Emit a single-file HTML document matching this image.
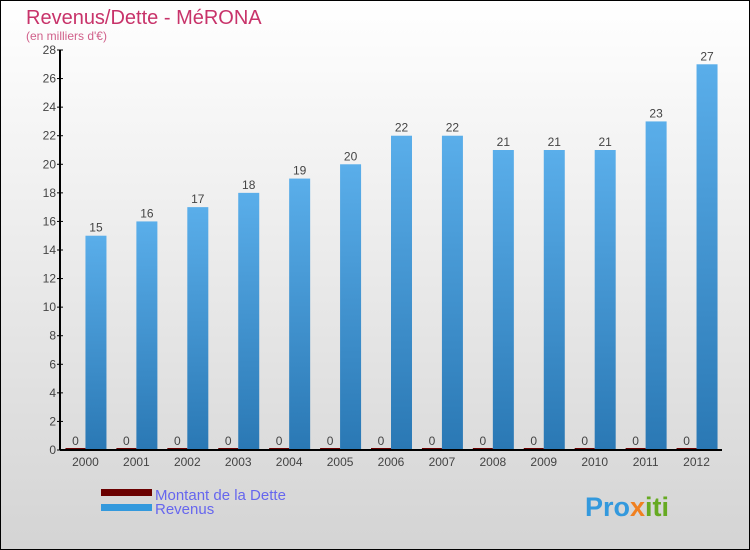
<!DOCTYPE html>
<html><head><meta charset="utf-8"><style>
body{margin:0}
#c{width:750px;height:550px;position:relative;box-sizing:border-box;border:1px solid #000;background:linear-gradient(#ffffff,#d4d4d4);font-family:"Liberation Sans",sans-serif;overflow:hidden}
</style></head><body>
<div id="c">
<svg width="748" height="548" style="position:absolute;left:0;top:0" id="s">
<defs><linearGradient id="g" x1="0" y1="0" x2="0" y2="1"><stop offset="0" stop-color="#5aaeea"/><stop offset="1" stop-color="#2a78b4"/></linearGradient></defs>
<text x="25" y="23" font-size="20" fill="#c8336a">Revenus/Dette - MéRONA</text>
<text x="25" y="39" font-size="12" fill="#d0608a">(en milliers d'€)</text>
<g id="plot"></g>
<rect x="100" y="488" width="51" height="7" fill="#6a0000"/>
<rect x="100" y="503" width="51" height="7" fill="#3399dd"/>
<text x="154" y="499" font-size="15" fill="#6666ee">Montant de la Dette</text>
<text x="154" y="513" font-size="15" fill="#6666ee">Revenus</text>
<text x="584" y="515" font-size="27" font-weight="bold" fill="#3399dd">Pro<tspan fill="#f08020">x</tspan><tspan fill="#66aa22">iti</tspan></text>
</svg>
</div>
<script>
const years=["2000","2001","2002","2003","2004","2005","2006","2007","2008","2009","2010","2011","2012"];
const debt=[0,0,0,0,0,0,0,0,0,0,0,0,0];
const revenue=[15,16,17,18,19,20,22,22,21,21,21,23,27];
const yTicks=[0,2,4,6,8,10,12,14,16,18,20,22,24,26,28];
const NS="http://www.w3.org/2000/svg";
const g=document.getElementById("plot");
const x0=59,x1=721,y0=449,yTop=49,yMax=28;
const bw=(x1-x0)/years.length;
const y=v=>y0-(v/yMax)*(y0-yTop);
const cx=i=>x0+bw*(i+0.5);
function mk(t,a){const e=document.createElementNS(NS,t);for(const k in a)e.setAttribute(k,a[k]);g.appendChild(e);return e;}
yTicks.forEach(v=>{
 const l=mk("line",{x1:x0-3,x2:x0+3,y1:y(v),y2:y(v),stroke:"#000"});
 
 
 const t=mk("text",{x:x0-4,y:y(v)+4,"text-anchor":"end","font-size":"12",fill:"#444"});
 t.textContent=v;
 
 
});
years.forEach((yr,i)=>{
 const c=cx(i);
 const d=mk("rect",{x:c-20,y:y(debt[i])-2,width:20,height:2+(y0-y(debt[i])),fill:"#6a0000"});
 
 
 const dt=mk("text",{x:c-10,y:y(debt[i])-5,"text-anchor":"middle","font-size":"12",fill:"#444"});
 dt.textContent=debt[i];
 
 
 const r=mk("rect",{x:c,y:y(revenue[i]),width:21,height:y0-y(revenue[i]),fill:"url(#g)"});
 
 
 const rt=mk("text",{x:c+10.5,y:y(revenue[i])-4,"text-anchor":"middle","font-size":"12",fill:"#444"});
 rt.textContent=revenue[i];
 
 
 const xt=mk("text",{x:c,y:y0+16,"text-anchor":"middle","font-size":"12",fill:"#444"});
 xt.textContent=yr;
 
 
});
const ya=mk("line",{x1:x0,x2:x0,y1:yTop,y2:y0,stroke:"#000","stroke-width":2});


const xa=mk("line",{x1:x0,x2:x1,y1:y0,y2:y0,stroke:"#000","stroke-width":2});


</script>
</body></html>
